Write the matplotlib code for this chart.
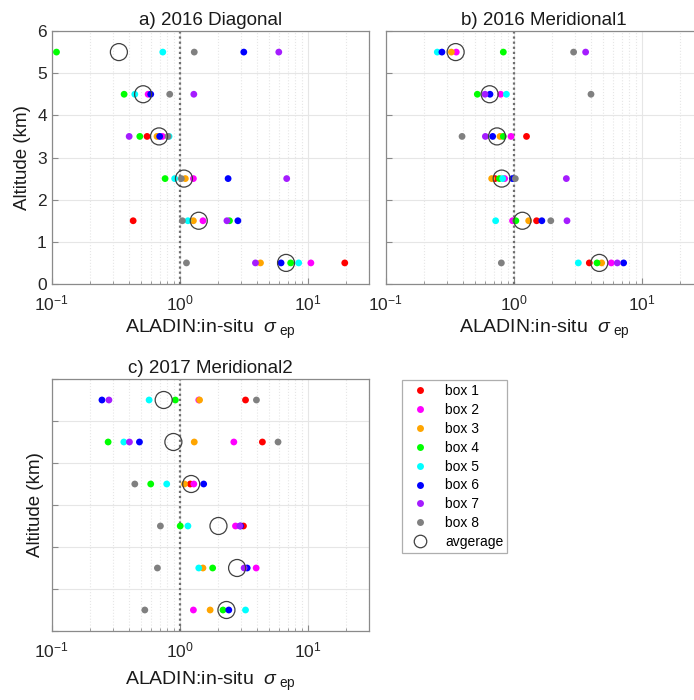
import numpy as np
import matplotlib
matplotlib.use("Agg")
import matplotlib.pyplot as plt
from matplotlib.lines import Line2D
from matplotlib.ticker import LogLocator, NullFormatter

plt.rcParams['font.family'] = ['Liberation Sans', 'DejaVu Sans']
plt.rcParams['mathtext.fontset'] = 'custom'
plt.rcParams['mathtext.rm'] = 'Liberation Sans'
plt.rcParams['mathtext.it'] = 'Liberation Sans:italic'
plt.rcParams['mathtext.sf'] = 'Liberation Sans'
plt.rcParams['axes.unicode_minus'] = False

nan = np.nan

# Altitude bins (km), bottom to top
altitudes = [0.5, 1.5, 2.5, 3.5, 4.5, 5.5]

box_labels = ['box 1', 'box 2', 'box 3', 'box 4', 'box 5', 'box 6', 'box 7', 'box 8']
box_colors = ['#ff0000', '#ff00ff', '#ffa500', '#00ff00', '#00ffff', '#0000ff', '#a51cff', '#808080']

titles = ['a) 2016 Diagonal', 'b) 2016 Meridional1', 'c) 2017 Meridional2']

# ALADIN:in-situ ratio per box, per altitude bin
diag_box1 = [19.5, 0.433, nan, 0.556, nan, nan]
diag_box2 = [10.6, 1.52, 1.28, 0.733, 0.567, nan]
diag_box3 = [4.28, 1.28, 1.107, 0.665, nan, nan]
diag_box4 = [7.37, 2.45, 0.769, 0.488, 0.368, 0.109]
diag_box5 = [8.51, 1.16, 0.914, 0.826, 0.446, 0.738]
diag_box6 = [6.20, 2.85, 2.39, 0.698, 0.594, 3.17]
diag_box7 = [3.91, 2.34, 6.86, 0.403, 1.29, 5.95]
diag_box8 = [1.13, 1.05, 1.03, 0.811, 0.836, 1.30]
diag_avg = [6.78, 1.41, 1.08, 0.690, 0.518, 0.335]

mer1_box1 = [3.90, 1.51, 0.715, 1.26, nan, nan]
mer1_box2 = [5.79, 0.98, 0.85, 0.953, 0.791, 0.356]
mer1_box3 = [4.87, 1.31, 0.673, 0.782, nan, 0.326]
mer1_box4 = [4.48, 1.04, 0.773, 0.830, 0.520, 0.830]
mer1_box5 = [3.20, 0.723, 0.820, nan, 0.877, 0.253]
mer1_box6 = [7.23, 1.66, 0.977, 0.685, 0.653, 0.275]
mer1_box7 = [6.45, 2.61, 2.58, 0.601, 0.597, 3.65]
mer1_box8 = [0.801, 1.95, 1.03, 0.395, 4.02, 2.94]
mer1_avg = [4.67, 1.17, 0.806, 0.741, 0.649, 0.352]

mer2_box1 = [nan, nan, 3.15, 1.21, 4.43, 3.27]
mer2_box2 = [1.28, 3.96, 2.73, 1.29, 2.65, 1.41]
mer2_box3 = [1.73, 1.52, nan, 1.09, 1.30, 1.43]
mer2_box4 = [2.18, 1.81, 1.01, 0.594, 0.276, 0.925]
mer2_box5 = [3.27, 1.41, 1.16, 0.792, 0.366, 0.577]
mer2_box6 = [2.42, 3.37, 2.99, 1.54, 0.485, 0.247]
mer2_box7 = [nan, 3.19, 2.95, nan, 0.405, 0.280]
mer2_box8 = [0.534, 0.670, 0.707, 0.446, 5.87, 3.98]
mer2_avg = [2.32, 2.81, 2.01, 1.23, 0.893, 0.750]

campaigns = [
    ([diag_box1, diag_box2, diag_box3, diag_box4, diag_box5, diag_box6, diag_box7, diag_box8], diag_avg),
    ([mer1_box1, mer1_box2, mer1_box3, mer1_box4, mer1_box5, mer1_box6, mer1_box7, mer1_box8], mer1_avg),
    ([mer2_box1, mer2_box2, mer2_box3, mer2_box4, mer2_box5, mer2_box6, mer2_box7, mer2_box8], mer2_avg),
]

fig = plt.figure(figsize=(6.94, 7.0), dpi=100)
W, H = 694.0, 700.0
positions = [
    [51.7 / W, 1 - 284 / H, 317 / W, 253 / H],
    [385.7 / W, 1 - 284 / H, 317 / W, 253 / H],
    [51.7 / W, 1 - 631 / H, 317 / W, 252 / H],
]

spine_col = '#8a8a8a'
for i, (pos, (boxes, avg)) in enumerate(zip(positions, campaigns)):
    ax = fig.add_axes(pos)
    ax.set_xscale('log')
    ax.set_xlim(0.1, 30)
    ax.set_ylim(0, 6)
    ax.set_yticks(range(7))
    ax.xaxis.set_major_locator(LogLocator(base=10, numticks=10))
    ax.xaxis.set_minor_locator(LogLocator(base=10, subs=np.arange(2, 10), numticks=20))
    ax.xaxis.set_minor_formatter(NullFormatter())
    ax.grid(True, which='major', axis='both', color='#e6e6e6', linewidth=0.8)
    ax.grid(True, which='minor', axis='x', color='#e6e6e6', linestyle=':', linewidth=0.8)
    ax.set_axisbelow(True)
    for sp in ax.spines.values():
        sp.set_color(spine_col)
        sp.set_linewidth(0.9)
    ax.tick_params(which='both', direction='in', color=spine_col, labelsize=12.5,
                   labelcolor='#262626', top=False, right=False)
    ax.tick_params(which='major', length=4)
    ax.tick_params(which='minor', length=2.5)
    ax.tick_params(axis='x', which='major', pad=7)
    ax.axvline(1.0, color='#6e6e6e', linestyle=(0, (1, 1.3)), linewidth=1.6, zorder=2)

    for vals, col in zip(boxes, box_colors):
        ax.scatter(vals, altitudes, s=24, color=col, edgecolors='none', zorder=3)
    ax.scatter(avg, altitudes, s=150, facecolors='none', edgecolors='#404040',
               linewidths=0.9, zorder=4)

    ax.set_title(titles[i], fontsize=13.5, pad=4, color='#1a1a1a')
    ax.set_xlabel(r'ALADIN:in-situ  $\sigma_{\ \mathrm{ep}}$', fontsize=14, color='#1a1a1a')
    ax.xaxis.set_label_coords(0.5, -0.135 if i < 2 else -0.155)
    if i == 0:
        ax.set_ylabel('Altitude (km)', fontsize=13.5, color='#1a1a1a')
        ax.yaxis.set_label_coords(-0.065, 0.5)
    elif i == 2:
        ax.set_yticklabels([])
        ax.set_ylabel('Altitude (km)', fontsize=13.5, color='#1a1a1a')
        ax.yaxis.set_label_coords(-0.025, 0.5)
    else:
        ax.set_yticklabels([])

handles = [Line2D([], [], linestyle='none', marker='o', markersize=5, color=c, markeredgecolor='none')
           for c in box_colors]
handles.append(Line2D([], [], linestyle='none', marker='o', markersize=9, markerfacecolor='none',
                      markeredgecolor='#404040', markeredgewidth=0.9))
leg = fig.legend(handles, box_labels + ['avgerage'], loc='upper left',
                 bbox_to_anchor=(402 / W, 1 - 380 / H), borderaxespad=0, fontsize=10,
                 frameon=True, fancybox=False, labelspacing=0.35, handletextpad=0.8,
                 borderpad=0.3, handlelength=2.0)
leg.get_frame().set_edgecolor('#9a9a9a')
leg.get_frame().set_linewidth(0.9)

fig.savefig('out.png', dpi=100)
